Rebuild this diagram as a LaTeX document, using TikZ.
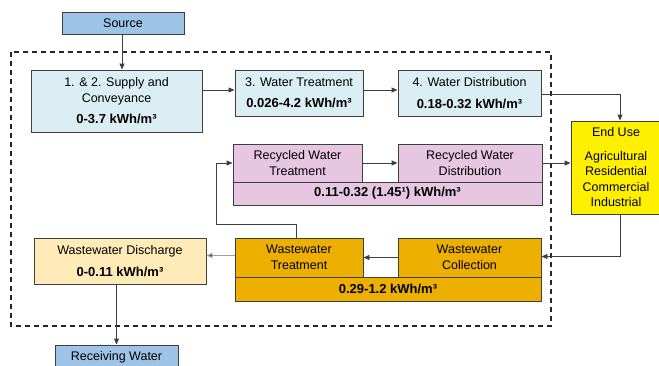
\documentclass[tikz,border=0pt]{standalone}
\usepackage{fontspec}
\setmainfont{Liberation Sans}
\usetikzlibrary{arrows.meta}
\definecolor{srcblue}{HTML}{9DC3E6}
\definecolor{lcyan}{HTML}{DAEEF3}
\definecolor{rpink}{HTML}{E6C6E0}
\definecolor{wgold}{HTML}{EDB000}
\definecolor{dyel}{HTML}{FFEBB7}
\definecolor{euyel}{HTML}{FFF000}
\definecolor{bordc}{HTML}{3F3F3F}
\definecolor{arrgray}{HTML}{A0A0A0}
\newcommand{\bval}[1]{{\fontsize{13}{15.5}\selectfont\textbf{#1}}}
\tikzset{
  box/.style={draw=bordc, line width=0.9pt, inner sep=0pt, align=center, font=\fontsize{12.5}{15.5}\selectfont},
  conn/.style={draw=bordc, line width=0.9pt, -{Triangle[length=6pt,width=5pt]}},
  frame/.style={draw=black!85, line width=1.3pt, dash pattern=on 5pt off 4pt},
}
\begin{document}
\begin{tikzpicture}[x=1pt,y=-1pt]
\useasboundingbox (0,0) rectangle (659,365);
\begin{scope}
\clip (0,0) rectangle (659,365);
% dashed frame
\draw[frame] (11,52) rectangle (551,326);

\node[box, fill=srcblue, minimum width=122pt, minimum height=22pt] (src) at (123,23) {Source};
\node[box, fill=lcyan, minimum width=171pt, minimum height=62pt] (b12) at (116.5,101) {1. \& 2. Supply and\\Conveyance\\[6pt]\bval{0-3.7 kWh/m³}};
\node[box, fill=lcyan, minimum width=128pt, minimum height=46pt] (b3) at (299,93) {3. Water Treatment\\[6pt]\bval{0.026-4.2 kWh/m³}};
\node[box, fill=lcyan, minimum width=143pt, minimum height=46pt] (b4) at (469.5,93) {4. Water Distribution\\[6pt]\bval{0.18-0.32 kWh/m³}};
\node[box, fill=euyel, minimum width=90pt, minimum height=93pt] (eu) at (616,167.5) {End Use\\[8pt]Agricultural\\Residential\\Commercial\\Industrial};

\node[box, fill=rpink, minimum width=129pt, minimum height=38pt] (rwt) at (297.5,163) {Recycled Water\\Treatment};
\node[box, fill=rpink, minimum width=144pt, minimum height=38pt] (rwd) at (470,163) {Recycled Water\\Distribution};
\node[box, fill=rpink, minimum width=309pt, minimum height=23pt] (rbar) at (387.5,193.5) {\bval{0.11-0.32 (1.45¹) kWh/m³}};

\node[box, fill=wgold, minimum width=128pt, minimum height=39pt] (wwt) at (299,257.5) {Wastewater\\Treatment};
\node[box, fill=wgold, minimum width=143pt, minimum height=39pt] (wwc) at (469.5,257.5) {Wastewater\\Collection};
\node[box, fill=wgold, minimum width=306pt, minimum height=24pt] (wbar) at (388,289) {\bval{0.29-1.2 kWh/m³}};

\node[box, fill=dyel, minimum width=172pt, minimum height=46pt] (dis) at (120,261) {Wastewater Discharge\\[7pt]\bval{0-0.11 kWh/m³}};
\node[box, fill=srcblue, minimum width=123pt, minimum height=24pt] (rw) at (116.5,357) {Receiving Water};

\coordinate (c1) at (296,224);
\coordinate (c2) at (216,224);

% connectors
\draw[conn] ([xshift=-1pt]src.south) -- ([xshift=-1pt]src.south |- b12.north);
\draw[conn] (b12.east |- b3.west) ++(0,-3) coordinate (a1) -- (a1 -| b3.west);
\draw[conn] ([yshift=3pt]b3.east) -- ([yshift=3pt]b4.west);
\draw[conn] ([yshift=-1pt]b4.east) -| ([xshift=4pt]eu.north);
\draw[conn] (rwt.east) -- (rwd.west);
\draw[conn] (rwd.east) -- (rwd.east -| eu.west);
\draw[conn] ([xshift=4pt]eu.south) |- ([yshift=1pt]wwc.east);
\draw[conn] (wwc.west) -- (wwt.east);
\draw[conn, draw=arrgray, -{Triangle[length=6pt,width=5pt,fill=bordc]}] ([yshift=2pt]wwt.west) -- ([yshift=2pt]wwt.west -| dis.east);
\draw[conn] (c1 |- wwt.north) -- (c1) -- (c2) |- (rwt.west);
\draw[conn] (dis.south -| rw.north) -- (rw.north);
\end{scope}
\end{tikzpicture}
\end{document}
